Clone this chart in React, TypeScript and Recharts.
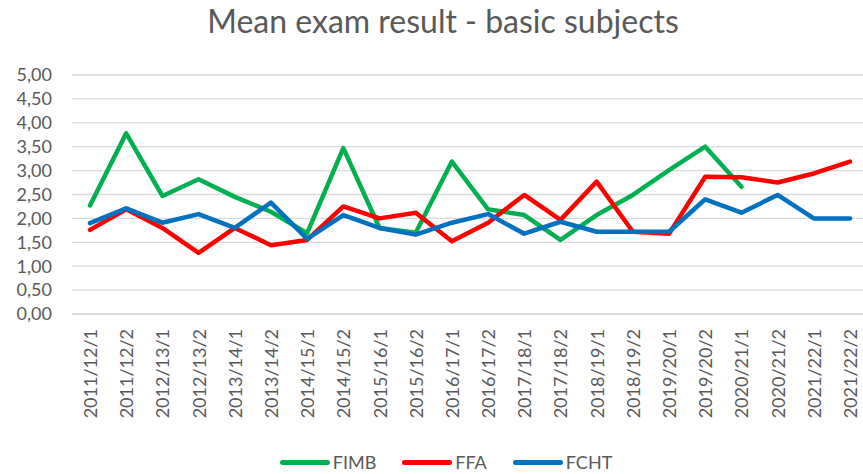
import React from 'react';
import { LineChart, Line, XAxis, YAxis, CartesianGrid, Legend } from 'recharts';

const categories = [
  '2011/12/1', '2011/12/2', '2012/13/1', '2012/13/2', '2013/14/1', '2013/14/2',
  '2014/15/1', '2014/15/2', '2015/16/1', '2015/16/2', '2016/17/1', '2016/17/2',
  '2017/18/1', '2017/18/2', '2018/19/1', '2018/19/2', '2019/20/1', '2019/20/2',
  '2020/21/1', '2020/21/2', '2021/22/1', '2021/22/2',
];

const fimb: (number | null)[] = [2.27, 3.78, 2.47, 2.82, 2.45, 2.14, 1.69, 3.47, 1.80, 1.70, 3.19, 2.19, 2.07, 1.55, 2.07, 2.49, 3.01, 3.50, 2.66, null, null, null];
const ffa: number[] = [1.76, 2.19, 1.80, 1.28, 1.80, 1.44, 1.55, 2.25, 2.00, 2.12, 1.52, 1.91, 2.49, 1.97, 2.77, 1.72, 1.68, 2.87, 2.86, 2.75, 2.94, 3.19];
const fcht: number[] = [1.90, 2.21, 1.91, 2.09, 1.80, 2.33, 1.57, 2.07, 1.80, 1.66, 1.91, 2.09, 1.68, 1.93, 1.72, 1.72, 1.72, 2.40, 2.12, 2.49, 2.00, 2.00];

const yTicks = [0, 0.5, 1, 1.5, 2, 2.5, 3, 3.5, 4, 4.5, 5];

const seriesDefs = [
  { key: 'FIMB', values: fimb, color: '#00B050' },
  { key: 'FFA', values: ffa, color: '#FF0000' },
  { key: 'FCHT', values: fcht, color: '#0070C0' },
];

const data = categories.map((c, i) => {
  const row: Record<string, any> = { cat: c };
  seriesDefs.forEach((s) => {
    row[s.key] = s.values[i];
  });
  return row;
});

const FONT = 'Lato, "Open Sans", sans-serif';
const TEXT = '#595959';

const XTick = (props: any) => {
  const { x, y, payload } = props;
  const ty = y + 15;
  return (
    <text
      x={x}
      y={ty}
      transform={`rotate(-90, ${x}, ${ty})`}
      textAnchor="end"
      dominantBaseline="central"
      fill={TEXT}
      fontSize={18}
      fontFamily={FONT}
    >
      {payload.value}
    </text>
  );
};

const LegendContent = () => (
  <div
    style={{
      height: 24,
      display: 'flex',
      justifyContent: 'center',
      alignItems: 'center',
      paddingLeft: 24,
      fontFamily: FONT,
      fontSize: 18,
      color: TEXT,
    }}
  >
    {seriesDefs.map((s) => (
      <div key={s.key} style={{ display: 'flex', alignItems: 'center', margin: '0 13px' }}>
        <div style={{ width: 50, height: 5, borderRadius: 3, background: s.color, marginRight: 3 }} />
        <span>{s.key}</span>
      </div>
    ))}
  </div>
);

export default function App() {
  return (
    <div
      style={{
        position: 'absolute',
        left: 0,
        top: 0,
        width: 863,
        height: 474,
        overflow: 'hidden',
        background: '#fff',
      }}
    >
      <div
        style={{
          position: 'absolute',
          left: 0,
          top: 1,
          width: 886,
          textAlign: 'center',
          fontFamily: FONT,
          fontSize: 32,
          color: TEXT,
          zIndex: 2,
        }}
      >
        Mean exam result - basic subjects
      </div>
      <LineChart
        width={868}
        height={474}
        data={data}
        margin={{ top: 75, right: 0, bottom: 0, left: 0 }}
      >
        <CartesianGrid vertical={false} stroke="#D9D9D9" strokeWidth={1.3} />
        <XAxis
          dataKey="cat"
          interval={0}
          height={136}
          padding={{ left: 18, right: 18 }}
          tickSize={0}
          tickMargin={0}
          axisLine={{ stroke: '#D9D9D9', strokeWidth: 1.3 }}
          tickLine={false}
          tick={<XTick />}
        />
        <YAxis
          domain={[0, 5]}
          ticks={yTicks}
          interval={0}
          width={72}
          tickSize={0}
          tickMargin={20}
          axisLine={false}
          tickLine={false}
          tickFormatter={(v: number) => v.toFixed(2).replace('.', ',')}
          tick={{ fill: TEXT, fontSize: 18, fontFamily: FONT }}
        />
        {seriesDefs.map((s) => (
          <Line
            key={s.key}
            dataKey={s.key}
            stroke={s.color}
            strokeWidth={4.5}
            dot={false}
            activeDot={false}
            strokeLinejoin="round"
            strokeLinecap="round"
            isAnimationActive={false}
          />
        ))}
        <Legend verticalAlign="bottom" content={<LegendContent />} />
      </LineChart>
    </div>
  );
}
